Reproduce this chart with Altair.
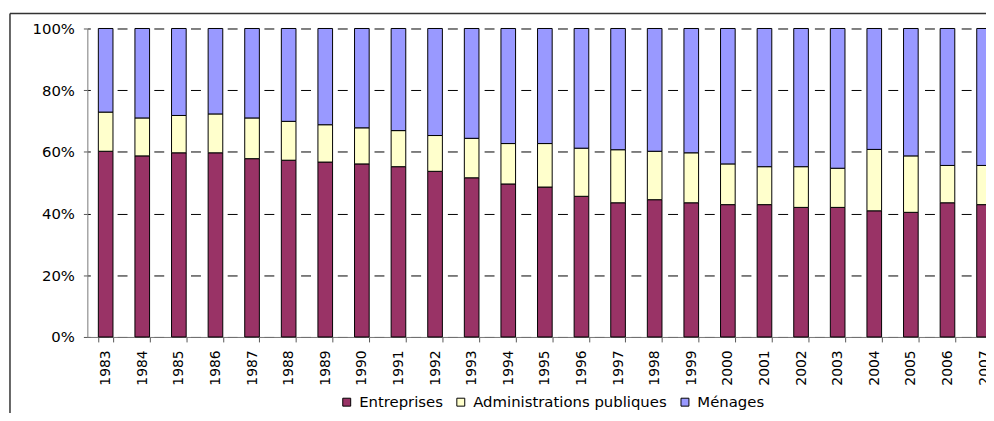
import altair as alt
import pandas as pd

years = ["1983", "1984", "1985", "1986", "1987", "1988", "1989", "1990", "1991",
         "1992", "1993", "1994", "1995", "1996", "1997", "1998", "1999", "2000",
         "2001", "2002", "2003", "2004", "2005", "2006", "2007"]
series = ["Entreprises", "Administrations publiques", "Ménages"]
colors = ["#993366", "#FFFFCC", "#9999FF"]

entreprises = [60.2, 58.7, 59.7, 59.7, 57.8, 57.3, 56.7, 56.1, 55.2, 53.7, 51.6, 49.6, 48.6,
               45.6, 43.5, 44.5, 43.5, 42.9, 42.9, 42.0, 42.0, 40.9, 40.4, 43.5, 42.9]
administrations = [12.7, 12.3, 12.1, 12.6, 13.2, 12.6, 12.1, 11.7, 11.7, 11.6, 12.8, 13.1, 14.1,
                   15.6, 17.2, 15.7, 16.2, 13.2, 12.3, 13.2, 12.7, 19.9, 18.3, 12.1, 12.7]
menages = [27.1, 29.0, 28.2, 27.7, 29.0, 30.1, 31.2, 32.2, 33.1, 34.7, 35.6, 37.3, 37.3,
           38.8, 39.3, 39.8, 40.3, 43.9, 44.8, 44.8, 45.3, 39.2, 41.3, 44.4, 44.4]

rows = []
for i, (name, vals) in enumerate(zip(series, [entreprises, administrations, menages])):
    for y, v in zip(years, vals):
        rows.append({"year": y, "series": name, "value": v, "order": i})
df = pd.DataFrame(rows)

FONT = "DejaVu Sans"

bars = alt.Chart(df).mark_bar(stroke="black", strokeWidth=1).encode(
    x=alt.X("year:N", sort=years,
            scale=alt.Scale(range=[0, 922.5], paddingInner=0.6, paddingOuter=0.3),
            axis=alt.Axis(title=None, labelAngle=270, labelFontSize=14, labelFont=FONT,
                          labelColor="black", tickSize=5, tickColor="#555", domainColor="#777",
                          labelPadding=8, tickBand="extent", grid=False)),
    y=alt.Y("value:Q", stack="zero",
            scale=alt.Scale(domain=[0, 100], nice=False),
            axis=alt.Axis(title=None, values=[0, 20, 40, 60, 80, 100],
                          labelExpr="datum.value + '%'", labelFontSize=15, labelFont=FONT,
                          labelColor="black", tickSize=4, tickColor="#555", domainColor="#777",
                          labelPadding=9, grid=True, gridColor="black", gridWidth=1,
                          gridDash=[10, 8.5], gridDashOffset=7)),
    fill=alt.Fill("series:N", scale=alt.Scale(domain=series, range=colors),
                  legend=alt.Legend(title=None, orient="none", legendX=254, legendY=369,
                                    direction="horizontal", symbolType="square", symbolSize=64,
                                    symbolStrokeColor="black", symbolStrokeWidth=1,
                                    labelFontSize=15, labelFont=FONT, labelColor="black",
                                    labelOffset=5, columnPadding=10, padding=0, labelLimit=400)),
    order=alt.Order("order:Q"),
)

frame_df = pd.DataFrame({"k": [0]})
left_line = alt.Chart(frame_df).mark_rule(color="#333", strokeWidth=1.5).encode(
    x=alt.value(-78), y=alt.value(-15), y2=alt.value(420))
top_line = alt.Chart(frame_df).mark_rule(color="#333", strokeWidth=1.5).encode(
    x=alt.value(-78), x2=alt.value(1000), y=alt.value(-15))

chart = alt.layer(bars, left_line, top_line).properties(
    width=906, height=311,
    autosize=alt.AutoSizeParams(type="none"),
    padding={"left": 80, "top": 19, "right": 0, "bottom": 75},
).configure_view(stroke=None)

chart.save("out.html", embed_options={"renderer": "svg", "actions": False})
